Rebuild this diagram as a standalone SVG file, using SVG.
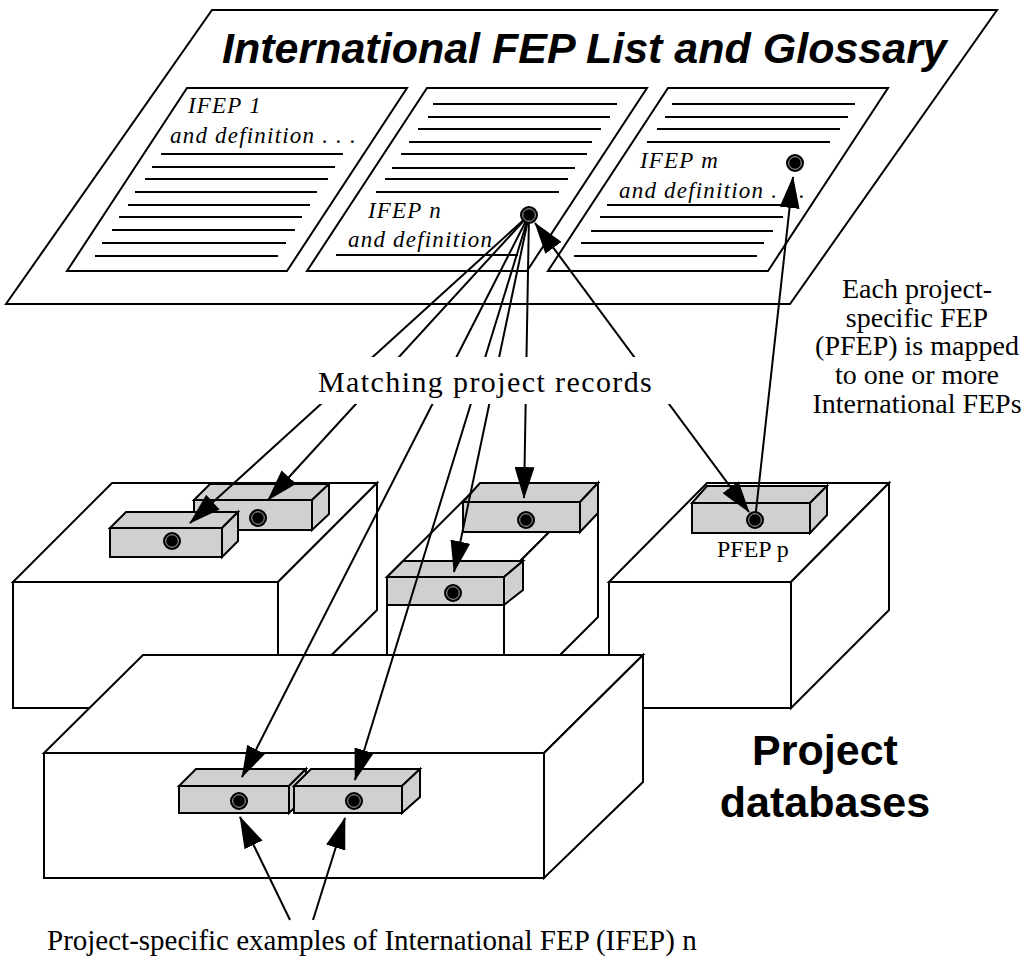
<svg xmlns="http://www.w3.org/2000/svg" width="1021" height="958" viewBox="0 0 1021 958">
<style>
.s{fill:#fff;stroke:#000;stroke-width:2;stroke-linejoin:miter}
.r{fill:#d0d0d0;stroke:#000;stroke-width:2;stroke-linejoin:miter}
.ln{stroke:#000;stroke-width:2;fill:none}
.c{stroke:#000;stroke-width:2;fill:none}
.pt{font-family:"Liberation Serif",serif;font-style:italic;font-size:23px;letter-spacing:1.2px;fill:#000}
.tx{font-family:"Liberation Serif",serif;fill:#000}
</style>
<defs>
<marker id="ah" markerUnits="userSpaceOnUse" markerWidth="32" markerHeight="20" refX="31" refY="10" orient="auto"><path d="M0,0 L32,10 L0,20 Z" fill="#000"/></marker>
<marker id="as" markerUnits="userSpaceOnUse" markerWidth="32" markerHeight="20" refX="1" refY="10" orient="auto"><path d="M32,0 L0,10 L32,20 Z" fill="#000"/></marker>
<g id="dot"><circle r="9" fill="#000"/><circle r="6.3" fill="#000" stroke="#aaa" stroke-width="1"/></g>
</defs>
<rect width="1021" height="958" fill="#fff"/>

<g id="glossary">
<polygon class="s" points="212,10 997,10 790,304 6,304"/>
<text x="222" y="63" font-family="Liberation Sans, Arial, sans-serif" font-weight="bold" font-style="italic" font-size="43">International FEP List and Glossary</text>
</g>

<g id="page-ifep1">
<polygon class="s" points="187,88 407,88 287,271 67,271"/>
<text class="pt" x="188" y="113">IFEP 1</text>
<text class="pt" x="170" y="143">and definition . . .</text>
<path class="ln" d="M161,154H343M152,167H335M145,179H328M135,192H317M128,205H310M119,217H302M112,230H295M102,243H286M95,256H278"/>
</g>

<g id="page-ifepn">
<polygon class="s" points="427,88 647,88 527,271 307,271"/>
<path class="ln" d="M433,104H617M428,117H610M418,129H601M409,142H592M401,154H587M392,168H575M385,179H568M376,192H559M336,255H518"/>
<text class="pt" x="368" y="218">IFEP n</text>
<text class="pt" x="348" y="247">and definition</text>
</g>

<g id="page-ifepm">
<polygon class="s" points="668,88 888,88 768,271 548,271"/>
<path class="ln" d="M672,104H855M665,117H848M657,129H840M647,142H830M607,205H790M600,217H783M591,231H773M581,243H764M574,256H757"/>
<text class="pt" x="640" y="168">IFEP m</text>
<text class="pt" x="619" y="198">and definition . . .</text>
</g>

<g id="db-left">
<rect class="s" x="13" y="582" width="265" height="126"/>
<polygon class="s" points="13,582 112,483 377,483 278,582"/>
<polygon class="s" points="278,582 377,483 377,610 278,708"/>
<g id="rec-left-b">
<rect class="r" x="194" y="500" width="118" height="30"/>
<polygon class="r" points="194,500 210,484 329,484 312,500"/>
<polygon class="r" points="312,500 329,484 329,514 312,530"/>
</g>
<g id="rec-left-a">
<rect class="r" x="110" y="528" width="112" height="29"/>
<polygon class="r" points="110,528 126,512 238,512 222,528"/>
<polygon class="r" points="222,528 238,512 238,541 222,557"/>
</g>
</g>

<g id="db-middle">
<rect class="s" x="387" y="577" width="117" height="134"/>
<polygon class="s" points="504,577 598,483 598,617 504,711"/>
<polygon class="s" points="387,577 481,483 598,483 504,577"/>
<g id="rec-mid-upper">
<rect class="r" x="463" y="502" width="117" height="30"/>
<polygon class="r" points="463,502 480,483 598,483 580,502"/>
<polygon class="r" points="580,502 598,483 598,513 580,532"/>
</g>
<g id="rec-mid-lower">
<rect class="r" x="387" y="577" width="117" height="28"/>
<polygon class="r" points="387,577 403,561 523,561 504,577"/>
<polygon class="r" points="504,577 523,561 523,590 504,605"/>
</g>
</g>

<g id="db-right">
<rect class="s" x="609" y="582" width="182" height="126"/>
<polygon class="s" points="609,582 707,483 889,483 791,582"/>
<polygon class="s" points="791,582 889,483 889,610 791,708"/>
<g id="rec-pfep">
<rect class="r" x="692" y="503" width="118" height="30"/>
<polygon class="r" points="692,503 707,486 827,486 810,503"/>
<polygon class="r" points="810,503 827,486 827,515 810,533"/>
</g>
<text class="tx" x="717" y="557" font-size="24">PFEP p</text>
</g>

<g id="db-bottom">
<rect class="s" x="44" y="753" width="500" height="125"/>
<polygon class="s" points="44,753 143,655 643,655 544,753"/>
<polygon class="s" points="544,753 643,655 643,782 544,878"/>
<g id="rec-bot-c">
<rect class="r" x="179" y="786" width="110" height="27"/>
<polygon class="r" points="179,786 196,769 306,769 289,786"/>
<polygon class="r" points="289,786 306,769 306,797 289,813"/>
</g>
<g id="rec-bot-d">
<rect class="r" x="294" y="786" width="108" height="27"/>
<polygon class="r" points="294,786 311,769 420,769 402,786"/>
<polygon class="r" points="402,786 420,769 420,797 402,813"/>
</g>
</g>

<g id="connectors">
<path class="c" d="M529,215 L190,523" marker-end="url(#ah)"/>
<path class="c" d="M529,215 L268,500" marker-end="url(#ah)"/>
<path class="c" d="M529,215 L242,777" marker-end="url(#ah)"/>
<path class="c" d="M529,215 L355,780" marker-end="url(#ah)"/>
<path class="c" d="M529,215 L454,572" marker-end="url(#ah)"/>
<path class="c" d="M529,215 L524,498" marker-end="url(#ah)"/>
<path class="c" d="M535,223 L749,512" marker-start="url(#as)" marker-end="url(#ah)"/>
<path class="c" d="M755,520 L793,177" marker-end="url(#ah)"/>
<path class="c" d="M290,920 L240,817" marker-end="url(#ah)"/>
<path class="c" d="M313,920 L345,818" marker-end="url(#ah)"/>
</g>

<g id="label-matching">
<rect x="300" y="357" width="380" height="47" fill="#fff"/>
<text class="tx" x="318" y="392" font-size="30" letter-spacing="1.4">Matching project records</text>
</g>

<g id="dots">
<use href="#dot" x="529" y="215"/>
<use href="#dot" x="795" y="163"/>
<use href="#dot" x="258" y="518"/>
<use href="#dot" x="172" y="541"/>
<use href="#dot" x="526" y="520"/>
<use href="#dot" x="453" y="593"/>
<use href="#dot" x="755" y="520"/>
<use href="#dot" x="239" y="801"/>
<use href="#dot" x="354" y="801"/>
</g>

<g id="label-mapped" class="tx" font-size="28" text-anchor="middle">
<text x="917" y="298">Each project-</text>
<text x="917" y="327">specific FEP</text>
<text x="917" y="355">(PFEP) is mapped</text>
<text x="917" y="384">to one or more</text>
<text x="917" y="413">International FEPs</text>
</g>

<g id="label-databases" font-family="Liberation Sans, Arial, sans-serif" font-weight="bold" font-size="43" text-anchor="middle">
<text x="825" y="765">Project</text>
<text x="825" y="817">databases</text>
</g>

<g id="label-examples">
<text class="tx" x="47" y="950" font-size="29">Project-specific examples of International FEP (IFEP) n</text>
</g>
</svg>
